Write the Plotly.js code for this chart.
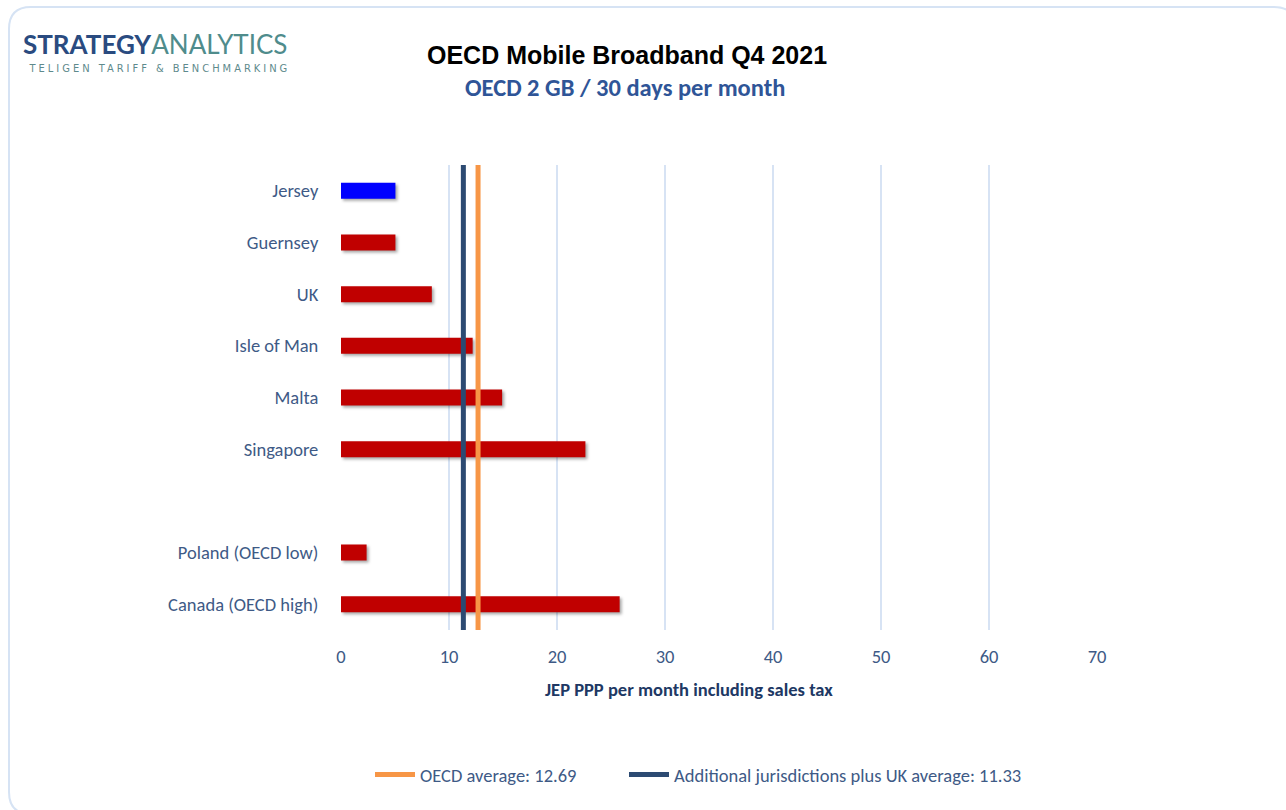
<!DOCTYPE html>
<html>
<head>
<meta charset="utf-8">
<script src="https://cdn.plot.ly/plotly-3.0.1.min.js"></script>
<style>html,body{margin:0;padding:0;background:#fff;}#chart{width:1286px;height:810px;}</style>
</head>
<body>
<div id="chart"></div>
<script>
// ---- data ----
const categories = ["Jersey", "Guernsey", "UK", "Isle of Man", "Malta", "Singapore", "", "Poland (OECD low)", "Canada (OECD high)"];
const values = [5.04, 5.04, 8.41, 12.19, 14.92, 22.63, null, 2.37, 25.8];
const highlighted = "Jersey";
const oecdAverage = 12.69;
const jurisdictionsAverage = 11.33;
const xTicks = [0, 10, 20, 30, 40, 50, 60, 70];

const chartTitle = "OECD Mobile Broadband Q4 2021";
const chartSubtitle = "OECD 2 GB / 30 days per month";
const xTitle = "JEP PPP per month including sales tax";
const oecdLabel = "OECD average: " + oecdAverage.toFixed(2);
const jurLabel = "Additional jurisdictions plus UK average: " + jurisdictionsAverage.toFixed(2);

// ---- layout helpers ----
const W = 1286, H = 810;
const L = 341, R = 189, T = 165, B = 180;
const PW = W - L - R, PH = H - T - B;
const px2x = p => (p - L) / PW;
const px2y = p => 1 - (p - T) / PH;

const font = "Carlito, Lato, 'Open Sans', sans-serif";
const labelColor = "#3E5A86";
const RED = "#C00000", BLUE = "#0000FF", ORANGE = "#F79646", NAVY = "#2C4A72";

const idx = categories.map((_, i) => i);
const n = categories.length;

const bars = {
  type: "bar", orientation: "h",
  x: values, y: idx,
  width: 0.31,
  marker: { color: categories.map(c => c === highlighted ? BLUE : RED), line: { width: 0 } },
  showlegend: false, hoverinfo: "x+text", text: categories, textposition: "none"
};
const oecdLine = {
  type: "scatter", mode: "lines", name: oecdLabel, legend: "legend",
  x: [oecdAverage, oecdAverage], y: [-0.5, n - 0.5],
  line: { color: ORANGE, width: 5 }, cliponaxis: false
};
const jurLine = {
  type: "scatter", mode: "lines", name: jurLabel, legend: "legend2",
  x: [jurisdictionsAverage, jurisdictionsAverage], y: [-0.5, n - 0.5],
  line: { color: NAVY, width: 5 }, cliponaxis: false
};

// rounded border path (pixel coords -> paper)
function roundedRect(x0, y0, x1, y1, r) {
  const P = (x, y) => px2x(x) + "," + px2y(y);
  return "M" + P(x0 + r, y0) + " L" + P(x1 - r, y0) + " Q" + P(x1, y0) + " " + P(x1, y0 + r) +
    " L" + P(x1, y1 - r) + " Q" + P(x1, y1) + " " + P(x1 - r, y1) +
    " L" + P(x0 + r, y1) + " Q" + P(x0, y1) + " " + P(x0, y1 - r) +
    " L" + P(x0, y0 + r) + " Q" + P(x0, y0) + " " + P(x0 + r, y0) + " Z";
}

const legendBase = {
  orientation: "h", xanchor: "left", y: px2y(775), yanchor: "middle",
  font: { family: font, size: 18.5, color: labelColor },
  bgcolor: "rgba(0,0,0,0)", itemwidth: 40
};

const layout = {
  width: W, height: H,
  margin: { l: L, r: R, t: T, b: B, pad: 0 },
  paper_bgcolor: "#ffffff", plot_bgcolor: "#ffffff",
  font: { family: font, color: labelColor, size: 18.5 },
  xaxis: {
    range: [0, 70], tickvals: xTicks, ticktext: xTicks.map(String),
    showgrid: true, gridcolor: "#D7E3F4", gridwidth: 2,
    zeroline: false, showline: false,
    ticks: "outside", ticklen: 10, tickcolor: "rgba(0,0,0,0)",
    tickfont: { family: font, size: 18.5, color: labelColor }
  },
  yaxis: {
    range: [n - 0.5, -0.5], tickvals: idx, ticktext: categories,
    showgrid: false, zeroline: false, showline: false,
    ticks: "outside", ticklen: 18, tickcolor: "rgba(0,0,0,0)",
    tickfont: { family: font, size: 18.5, color: labelColor }
  },
  showlegend: true,
  legend: Object.assign({}, legendBase, { x: px2x(370) }),
  legend2: Object.assign({}, legendBase, { x: px2x(624) }),
  shapes: [{
    type: "path", xref: "paper", yref: "paper", layer: "below",
    path: roundedRect(9, 7, 1296, 814, 22),
    line: { color: "#D6E3F4", width: 2 }, fillcolor: "rgba(0,0,0,0)"
  }],
  annotations: [
    { xref: "paper", yref: "paper", x: px2x(627), y: px2y(55), xanchor: "center", yanchor: "middle",
      text: "<b>" + chartTitle + "</b>", showarrow: false,
      font: { family: "'Liberation Sans', Arial, sans-serif", size: 25, color: "#000000" } },
    { xref: "paper", yref: "paper", x: px2x(625), y: px2y(88), xanchor: "center", yanchor: "middle",
      text: "<b>" + chartSubtitle + "</b>", showarrow: false,
      font: { family: font, size: 24.5, color: "#2F5597" } },
    { xref: "paper", yref: "paper", x: px2x(689), y: px2y(689), xanchor: "center", yanchor: "middle",
      text: "<b>" + xTitle + "</b>", showarrow: false,
      font: { family: font, size: 18.5, color: "#203864" } },
    { xref: "paper", yref: "paper", x: px2x(21), y: px2y(44), xanchor: "left", yanchor: "middle",
      text: "<b><span style='color:#2A4B80'>STRATEGY</span></b><span style='color:#4F8C8C'>ANALYTICS</span>", showarrow: false,
      font: { family: "Lato, 'Open Sans', sans-serif", size: 26, color: "#2A4B80" } },
    { xref: "paper", yref: "paper", x: px2x(159), y: px2y(69), xanchor: "center", yanchor: "middle",
      text: "TELIGEN TARIFF & BENCHMARKING", showarrow: false,
      font: { family: "'DejaVu Sans Condensed', 'DejaVu Sans', sans-serif", size: 11, color: "#5E8A8C" } }
  ]
};

Plotly.newPlot("chart", [bars, oecdLine, jurLine], layout, { displayModeBar: false, staticPlot: true }).then(() => {
  document.querySelectorAll("#chart .annotation-text").forEach(t => {
    if (t.textContent === "TELIGEN TARIFF & BENCHMARKING") t.style.letterSpacing = "3px";
  });
  document.querySelectorAll("#chart .barlayer .trace.bars").forEach(g => {
    g.style.filter = "drop-shadow(2px 2px 1.5px rgba(0,0,0,0.35))";
  });
});
</script>
</body>
</html>
